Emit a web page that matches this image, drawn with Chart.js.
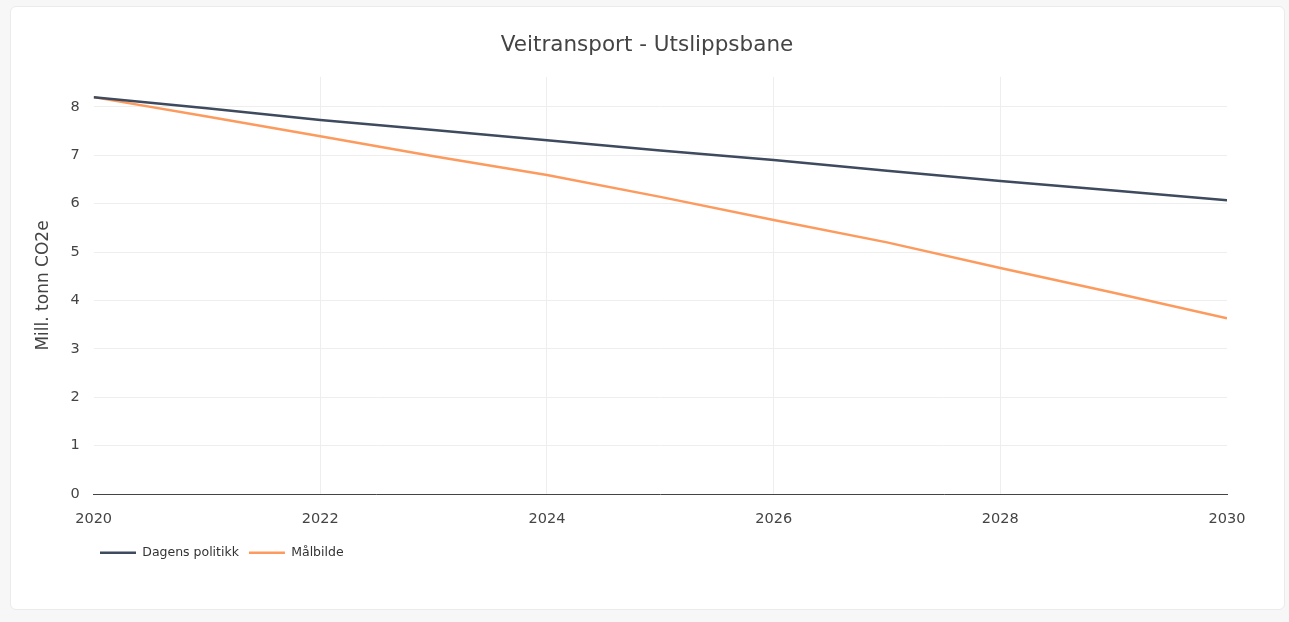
<!DOCTYPE html>
<html>
<head>
<meta charset="utf-8">
<script src="https://cdn.jsdelivr.net/npm/chart.js@4"></script>
<style>
  body { margin: 0; background: #f7f7f7; }
  #card {
    position: absolute; left: 10px; top: 6px; width: 1273px; height: 602px;
    background: #fff; border: 1px solid #ebebeb; border-radius: 6px;
  }
  #card canvas { display: block; }
</style>
</head>
<body>
<div id="card"><canvas id="myChart" width="1273" height="602"></canvas></div>
<script>
// data
var years = [2020, 2021, 2022, 2023, 2024, 2025, 2026, 2027, 2028, 2029, 2030]
var dagens = [8.2, 7.97, 7.73, 7.52, 7.31, 7.1, 6.9, 6.68, 6.47, 6.27, 6.07]
var malbilde = [8.2, 7.8, 7.39, 6.98, 6.59, 6.14, 5.66, 5.2, 4.67, 4.16, 3.63]
var xTicks = [2020, 2022, 2024, 2026, 2028, 2030]
var yTicks = [0, 1, 2, 3, 4, 5, 6, 7, 8]

var textColor = '#444'
var font = 'DejaVu Sans'

function points(vals) {
  return years.map(function (y, i) { return { x: y, y: vals[i] } })
}

// center the title on the card, move legend under the plot
var boxShift = {
  id: 'boxShift',
  afterLayout: function (chart) {
    chart.titleBlock.left += 23
    chart.titleBlock.right += 23
    chart.legend.left += 69
    chart.legend.right += 69
    chart.legend.top -= 7
    chart.legend.bottom -= 7
  }
}

var ctx = document.getElementById('myChart').getContext('2d')

var chart = new Chart(ctx, {
  type: 'line',
  data: {
    datasets: [
      {
        label: 'Dagens politikk',
        data: points(dagens),
        borderColor: '#3e4a5d',
        backgroundColor: '#3e4a5d',
        borderWidth: 2.5,
        pointRadius: 0,
        tension: 0
      },
      {
        label: 'Målbilde',
        data: points(malbilde),
        borderColor: '#fd9a5e',
        backgroundColor: '#fd9a5e',
        borderWidth: 2.5,
        pointRadius: 0,
        tension: 0
      }
    ]
  },
  options: {
    responsive: false,
    animation: false,
    layout: { padding: { left: 10, right: 57, top: 0, bottom: 33 } },
    plugins: {
      title: {
        display: true,
        text: 'Veitransport - Utslippsbane',
        color: textColor,
        font: { family: font, size: 21.5, weight: 'normal' },
        padding: { top: 26, bottom: 18 }
      },
      legend: {
        position: 'bottom',
        align: 'start',
        labels: {
          color: '#333',
          font: { family: font, size: 12.5 },
          usePointStyle: true,
          pointStyle: 'line',
          pointStyleWidth: 36,
          padding: 10
        }
      },
      tooltip: { enabled: false }
    },
    scales: {
      x: {
        type: 'linear',
        min: 2020,
        max: 2030,
        afterBuildTicks: function (scale) {
          scale.ticks = xTicks.map(function (v) { return { value: v } })
        },
        ticks: {
          color: textColor,
          font: { family: font, size: 14.5 },
          padding: 16,
          maxRotation: 0,
          callback: function (v) { return String(v) }
        },
        grid: {
          drawTicks: false,
          color: function (c) {
            if (c.tick && (c.tick.value === 2020 || c.tick.value === 2030)) return 'rgba(0,0,0,0)'
            return '#eeeeee'
          }
        },
        border: { display: true, color: '#444', width: 1 }
      },
      y: {
        min: 0,
        max: 8.62,
        afterBuildTicks: function (scale) {
          scale.ticks = yTicks.map(function (v) { return { value: v } })
        },
        ticks: {
          color: textColor,
          font: { family: font, size: 14.5 },
          padding: 14
        },
        grid: { drawTicks: false, color: '#eeeeee' },
        border: { display: false },
        title: {
          display: true,
          text: 'Mill. tonn CO2e',
          color: textColor,
          font: { family: font, size: 17 },
          padding: { top: 12, bottom: 3 }
        }
      }
    }
  },
  plugins: [boxShift]
})
</script>
</body>
</html>
